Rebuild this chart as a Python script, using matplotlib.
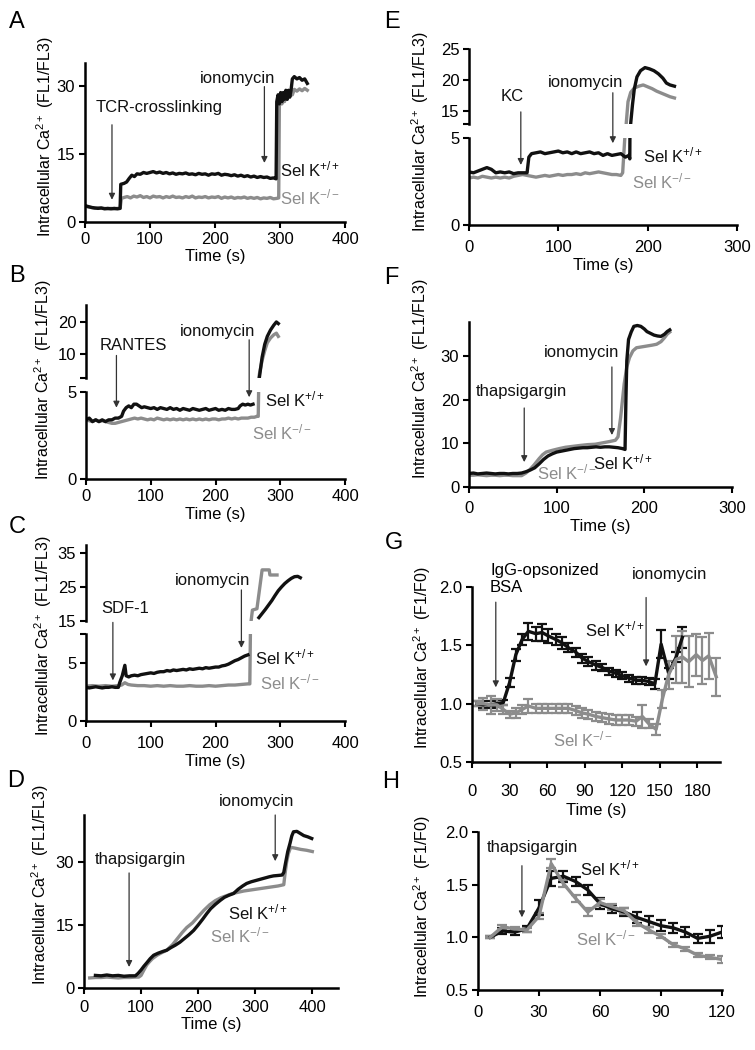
import matplotlib.pyplot as plt
import numpy as np

plt.rcParams['font.family'] = ['Liberation Sans', 'DejaVu Sans']
plt.rcParams['mathtext.fontset'] = 'custom'
plt.rcParams['mathtext.rm'] = 'Liberation Sans'
plt.rcParams['mathtext.it'] = 'Liberation Sans:italic'
plt.rcParams['mathtext.bf'] = 'Liberation Sans:bold'
plt.rcParams['mathtext.default'] = 'regular'

BLACK = '#111111'
GRAY = '#8c8c8c'
ARROW = '#333333'

# ---------------- data (time s, value) ----------------
# A: TCR-crosslinking
a_black = [(0, 3.6), (5, 3.4), (10, 3.2), (15, 3.1), (20, 3.0), (25, 3.1), (30, 2.9), (35, 3.0), (40, 2.9),
           (45, 3.0), (50, 2.9), (54, 3.0), (55, 8.3), (60, 8.5), (64, 8.8), (68, 9.6), (72, 10.3), (76, 10.0),
           (80, 10.6), (85, 10.5), (90, 10.9), (95, 10.7), (100, 10.9), (105, 11.1), (110, 10.8), (115, 11.0),
           (120, 10.7), (125, 10.9), (130, 10.6), (135, 10.8), (140, 10.5), (145, 10.7), (150, 10.6), (155, 10.8),
           (160, 10.5), (165, 10.6), (170, 10.4), (175, 10.7), (180, 10.5), (185, 10.6), (190, 10.3), (195, 10.6),
           (200, 10.5), (205, 10.7), (210, 10.3), (215, 10.5), (220, 10.4), (225, 10.2), (230, 10.4), (235, 10.1),
           (240, 10.3), (245, 10.0), (250, 10.2), (255, 9.9), (260, 10.1), (265, 9.8), (270, 10.0), (275, 9.8),
           (280, 9.9), (285, 9.6), (290, 9.7), (294, 9.5), (295, 26.5), (297, 28), (299, 26), (301, 28.5),
           (303, 26.5), (305, 28.5), (307, 27), (309, 29), (311, 27), (313, 29), (315, 27.5), (317, 29),
           (319, 31.5), (322, 32), (326, 31.5), (330, 31.8), (334, 31.2), (338, 31.5), (342, 30.5)]
a_gray = [(0, 3.5), (5, 3.3), (10, 3.2), (15, 3.0), (20, 3.1), (25, 3.0), (30, 3.0), (35, 2.9), (40, 3.0),
          (45, 2.9), (50, 3.0), (54, 3.0), (56, 5.2), (60, 5.4), (65, 5.6), (70, 5.3), (75, 5.7), (80, 5.5),
          (85, 5.8), (90, 5.4), (95, 5.6), (100, 5.3), (105, 5.7), (110, 5.5), (115, 5.6), (120, 5.3), (125, 5.6),
          (130, 5.4), (135, 5.7), (140, 5.4), (145, 5.5), (150, 5.3), (155, 5.6), (160, 5.4), (165, 5.7),
          (170, 5.3), (175, 5.5), (180, 5.4), (185, 5.6), (190, 5.3), (195, 5.5), (200, 5.4), (205, 5.6),
          (210, 5.2), (215, 5.5), (220, 5.3), (225, 5.5), (230, 5.2), (235, 5.4), (240, 5.3), (245, 5.5),
          (250, 5.2), (255, 5.4), (260, 5.2), (265, 5.4), (270, 5.1), (275, 5.3), (280, 5.2), (285, 5.4),
          (290, 5.1), (295, 5.2), (298, 5.3), (299, 25.5), (301, 27), (303, 26), (305, 27.5), (307, 26.5),
          (309, 28), (311, 27), (313, 28), (315, 27.5), (317, 28.5), (319, 28), (322, 29.2), (326, 28.8),
          (330, 29.3), (334, 28.9), (338, 29.4), (342, 29)]

# B: RANTES (broken axis: lower / upper parts)
b_black_low = [(0, 3.4), (5, 3.5), (10, 3.3), (15, 3.4), (20, 3.3), (25, 3.4), (30, 3.3), (35, 3.4), (40, 3.4),
               (45, 3.5), (50, 3.5), (55, 3.6), (58, 3.9), (62, 4.1), (66, 4.2), (70, 4.1), (74, 4.3), (78, 4.3),
               (82, 4.2), (86, 4.1), (90, 4.15), (95, 4.1), (100, 4.05), (105, 4.1), (110, 4.0), (115, 4.1),
               (120, 4.05), (125, 4.0), (130, 4.1), (135, 4.0), (140, 4.05), (145, 3.95), (150, 4.05), (155, 4.0),
               (160, 3.95), (165, 4.05), (170, 4.0), (175, 3.95), (180, 4.0), (185, 4.05), (190, 3.95), (195, 4.0),
               (200, 4.05), (205, 3.95), (210, 4.0), (215, 3.95), (220, 4.05), (225, 4.0), (230, 4.0), (235, 4.05),
               (238, 4.2), (242, 4.3), (246, 4.25), (250, 4.3), (254, 4.25), (258, 4.3)]
b_black_up = [(268, 3), (272, 9), (276, 13), (280, 15.5), (285, 17.5), (290, 19), (294, 20), (297, 19.5)]
b_gray_low = [(0, 3.4), (5, 3.35), (10, 3.3), (15, 3.4), (20, 3.3), (25, 3.35), (30, 3.3), (35, 3.25), (40, 3.2),
              (45, 3.2), (50, 3.25), (55, 3.3), (60, 3.35), (65, 3.4), (70, 3.45), (75, 3.5), (80, 3.45), (85, 3.5),
              (90, 3.45), (95, 3.4), (100, 3.45), (105, 3.4), (110, 3.5), (115, 3.45), (120, 3.4), (125, 3.45),
              (130, 3.4), (135, 3.45), (140, 3.4), (145, 3.45), (150, 3.4), (155, 3.45), (160, 3.4), (165, 3.45),
              (170, 3.4), (175, 3.45), (180, 3.4), (185, 3.45), (190, 3.4), (195, 3.45), (200, 3.45), (205, 3.4),
              (210, 3.45), (215, 3.45), (220, 3.5), (225, 3.45), (230, 3.5), (235, 3.45), (240, 3.5), (245, 3.5),
              (250, 3.5), (255, 3.55), (260, 3.55), (264, 3.6), (266, 3.6), (267, 6)]
b_gray_up = [(267, 2.5), (268, 4), (272, 8), (276, 11), (280, 13.5), (285, 15), (290, 16), (294, 16.5), (297, 15.5)]

# C: SDF-1 (nan = gap across the axis break)
c_black = [(0, 2.9), (5, 2.85), (10, 2.9), (15, 2.95), (20, 2.9), (25, 2.85), (30, 2.9), (35, 2.9), (40, 2.95),
           (45, 2.9), (50, 2.9), (52, 3.3), (56, 3.9), (60, 4.8), (62, 3.9), (66, 3.8), (70, 3.9), (75, 3.95),
           (80, 3.9), (85, 4.0), (90, 4.05), (95, 4.1), (100, 4.15), (105, 4.1), (110, 4.2), (115, 4.25),
           (120, 4.25), (125, 4.35), (130, 4.3), (135, 4.4), (140, 4.35), (145, 4.4), (150, 4.45), (155, 4.4),
           (160, 4.5), (165, 4.45), (170, 4.5), (175, 4.55), (180, 4.5), (185, 4.6), (190, 4.55), (195, 4.6),
           (200, 4.65), (205, 4.65), (210, 4.75), (215, 4.8), (220, 4.9), (225, 5.05), (230, 5.2), (235, 5.3),
           (240, 5.45), (245, 5.6), (250, 5.7), (251, np.nan), (267, 16.0), (272, 17.2), (277, 18.4), (282, 19.7),
           (287, 21.0), (292, 22.5), (297, 23.9), (302, 25.0), (307, 26.0), (312, 26.8), (317, 27.5),
           (322, 28.0), (327, 28.1), (331, 27.7)]
c_gray = [(0, 3.0), (10, 3.05), (20, 3.0), (30, 3.05), (40, 3.0), (50, 3.05), (55, 3.1), (60, 3.3), (65, 3.15),
          (70, 3.1), (80, 3.05), (90, 3.05), (100, 3.0), (110, 3.05), (120, 3.0), (130, 3.05), (140, 3.0),
          (150, 3.0), (160, 3.05), (170, 3.0), (180, 3.0), (190, 3.05), (200, 3.0), (210, 3.05), (220, 3.1),
          (230, 3.1), (240, 3.15), (250, 3.2), (253, 3.2), (254, 8), (254.5, np.nan), (255, 15),
          (257, 18.2), (264, 18.6), (272, 30.0), (283, 30.0), (284, 28.5), (295, 28.5)]

# D: thapsigargin
d_black = [(20, 3.0), (30, 2.9), (40, 3.1), (50, 2.9), (60, 3.0), (70, 2.8), (80, 2.9), (90, 2.9), (95, 3.5),
           (100, 4.3), (105, 5.2), (110, 6.0), (116, 7.0), (122, 7.8), (130, 8.3), (138, 8.7), (145, 9.0),
           (152, 9.6), (160, 10.2), (168, 10.9), (176, 11.8), (184, 12.7), (192, 13.7), (200, 15.0), (208, 16.4),
           (215, 17.7), (222, 18.9), (230, 19.9), (239, 20.9), (246, 21.6), (254, 22.1), (262, 22.5), (270, 23.5),
           (278, 24.3), (285, 24.9), (293, 25.3), (301, 25.6), (309, 25.9), (317, 26.2), (325, 26.5), (332, 26.7),
           (340, 26.8), (347, 26.9), (350, 27.5), (353, 29.7), (357, 32.5), (361, 34.5), (364, 36.2), (367, 37.2),
           (373, 37.3), (379, 36.8), (385, 36.3), (392, 36.0), (399, 35.6)]
d_gray = [(10, 2.4), (20, 2.5), (30, 2.5), (40, 2.6), (50, 2.5), (60, 2.4), (70, 2.5), (80, 2.5), (90, 2.6),
          (96, 2.6), (100, 3.0), (105, 4.3), (110, 5.5), (115, 6.3), (120, 7.0), (128, 7.8), (136, 8.4),
          (145, 9.0), (155, 10.3), (165, 12.0), (172, 13.2), (180, 14.4), (190, 15.5), (200, 17.0), (210, 18.5),
          (220, 19.8), (230, 20.8), (240, 21.5), (250, 22.0), (260, 22.5), (270, 22.8), (280, 23.1), (290, 23.3),
          (300, 23.5), (310, 23.7), (320, 23.9), (330, 24.1), (340, 24.3), (350, 24.6), (352, 27.0), (355, 30.0),
          (358, 32.0), (362, 33.5), (370, 33.3), (380, 33.0), (390, 32.8), (400, 32.5)]

# E: KC
e_black = [(0, 3.05), (5, 3.0), (10, 3.1), (15, 3.2), (20, 3.3), (25, 3.2), (30, 3.0), (35, 3.05), (40, 3.0),
           (45, 3.05), (50, 2.95), (55, 3.0), (60, 3.0), (65, 3.0), (67, 3.9), (70, 4.1), (75, 4.15), (80, 4.2),
           (85, 4.1), (90, 4.15), (95, 4.2), (100, 4.25), (105, 4.15), (110, 4.2), (115, 4.1), (120, 4.2),
           (125, 4.1), (130, 4.15), (135, 4.2), (140, 4.1), (145, 4.15), (150, 4.0), (155, 4.1), (160, 4.0),
           (165, 4.05), (170, 4.1), (175, 3.9), (179, 4.0), (180, 3.8), (181, 13), (183, 16), (185, 18.5),
           (188, 20.5), (192, 21.5), (197, 22), (202, 21.8), (207, 21.5), (212, 21.0), (217, 20.3), (221, 19.5),
           (225, 19.2), (230, 19.0)]
e_gray = [(0, 2.7), (5, 2.75), (10, 2.7), (15, 2.8), (20, 2.75), (25, 2.7), (30, 2.75), (35, 2.7), (40, 2.75),
          (45, 2.7), (50, 2.8), (55, 2.85), (60, 2.9), (65, 2.85), (70, 2.8), (75, 2.75), (80, 2.8), (85, 2.85),
          (90, 2.8), (95, 2.85), (100, 2.9), (105, 2.85), (110, 2.9), (115, 2.9), (120, 2.95), (125, 2.9),
          (130, 3.0), (135, 2.95), (140, 3.0), (145, 3.05), (150, 3.0), (155, 2.95), (160, 2.9), (165, 2.9),
          (170, 2.85), (172, 3.0), (175, 5.5), (176, 13), (178, 16.5), (181, 18.0), (185, 18.7), (190, 19.0),
          (195, 19.2), (200, 18.9), (205, 18.6), (210, 18.2), (215, 17.9), (220, 17.6), (225, 17.3), (230, 17.1)]

# F: thapsigargin
f_black = [(0, 3.1), (5, 3.2), (10, 3.0), (15, 3.1), (20, 3.2), (25, 3.1), (30, 3.0), (35, 3.1), (40, 3.1),
           (45, 3.0), (50, 3.1), (55, 3.1), (60, 3.2), (65, 3.5), (70, 3.9), (75, 4.4), (80, 5.3), (85, 6.3),
           (90, 7.1), (95, 7.6), (100, 8.0), (105, 8.2), (110, 8.4), (115, 8.6), (120, 8.8), (125, 8.9),
           (130, 9.0), (135, 9.0), (140, 9.1), (145, 9.2), (150, 9.1), (155, 9.2), (160, 9.2), (165, 9.1),
           (170, 9.0), (175, 8.8), (178, 8.6), (179, 20), (180, 28.9), (182, 33.8), (185, 35.5), (188, 36.8),
           (192, 37.0), (196, 36.8), (200, 36.2), (203, 35.6), (207, 35.2), (211, 34.8), (215, 34.6), (219, 34.5),
           (223, 35.0), (226, 35.6), (229, 36.0)]
f_gray = [(0, 2.7), (5, 2.7), (10, 2.8), (15, 2.7), (20, 2.6), (25, 2.7), (30, 2.7), (35, 2.6), (40, 2.7),
          (45, 2.7), (50, 2.6), (55, 2.6), (60, 2.6), (65, 3.2), (69, 3.9), (74, 5.0), (80, 6.5), (84, 7.4),
          (88, 8.0), (95, 8.4), (103, 8.8), (110, 9.1), (118, 9.3), (126, 9.5), (135, 9.7), (144, 9.8),
          (152, 10.1), (160, 10.4), (167, 10.7), (170, 11.5), (173, 16), (177, 23.6), (180, 27.5), (183, 29.6),
          (187, 31.2), (191, 31.9), (197, 32.1), (203, 32.3), (209, 32.5), (214, 32.7), (219, 33.3), (223, 34.2),
          (226, 35.0), (229, 35.5)]

# G: IgG-opsonized BSA (time, mean, error)
g_black = [(4, 1.00, 0.02), (9, 0.99, 0.03), (15, 0.99, 0.03), (20, 1.00, 0.03), (25, 1.01, 0.02),
           (30, 1.18, 0.04), (35, 1.42, 0.05), (40, 1.55, 0.05), (45, 1.62, 0.07), (51, 1.60, 0.06),
           (56, 1.61, 0.07), (61, 1.58, 0.06), (67, 1.55, 0.05), (72, 1.52, 0.05), (77, 1.48, 0.04),
           (83, 1.44, 0.04), (88, 1.39, 0.04), (93, 1.36, 0.04), (99, 1.33, 0.04), (104, 1.31, 0.03),
           (109, 1.28, 0.03), (115, 1.26, 0.03), (120, 1.24, 0.03), (125, 1.22, 0.03), (131, 1.20, 0.03),
           (136, 1.20, 0.03), (141, 1.19, 0.03), (146, 1.17, 0.04), (151, 1.51, 0.12), (157, 1.26, 0.05),
           (163, 1.40, 0.04), (168, 1.57, 0.09)]
g_gray = [(4, 1.00, 0.02), (9, 1.00, 0.05), (15, 0.99, 0.08), (20, 0.99, 0.05), (25, 0.95, 0.04),
          (30, 0.91, 0.03), (35, 0.92, 0.04), (40, 0.95, 0.04), (45, 0.98, 0.06), (51, 0.96, 0.04),
          (56, 0.96, 0.04), (61, 0.96, 0.04), (67, 0.96, 0.04), (72, 0.96, 0.04), (77, 0.96, 0.04),
          (83, 0.94, 0.04), (88, 0.92, 0.04), (93, 0.91, 0.04), (99, 0.89, 0.04), (104, 0.88, 0.04),
          (109, 0.87, 0.04), (115, 0.86, 0.04), (120, 0.86, 0.04), (125, 0.86, 0.04), (131, 0.85, 0.04),
          (136, 0.89, 0.10), (141, 0.83, 0.04), (147, 0.78, 0.05), (152, 1.04, 0.08), (157, 1.25, 0.12),
          (163, 1.38, 0.20), (168, 1.40, 0.22), (173, 1.36, 0.22), (179, 1.42, 0.18), (184, 1.37, 0.20),
          (189, 1.41, 0.20), (195, 1.23, 0.16)]

# H: thapsigargin (time, mean, error)
h_black = [(6, 1.00, 0.01), (12, 1.06, 0.03), (18, 1.05, 0.03), (24, 1.08, 0.03), (30, 1.28, 0.07),
           (36, 1.56, 0.07), (42, 1.58, 0.05), (48, 1.53, 0.04), (54, 1.45, 0.05), (60, 1.32, 0.05),
           (66, 1.27, 0.04), (72, 1.24, 0.04), (78, 1.19, 0.05), (84, 1.15, 0.05), (90, 1.11, 0.05),
           (96, 1.09, 0.05), (102, 1.05, 0.05), (108, 0.99, 0.04), (114, 1.01, 0.06), (120, 1.05, 0.06)]
h_gray = [(6, 1.00, 0.01), (12, 1.10, 0.02), (18, 1.08, 0.02), (24, 1.07, 0.02), (30, 1.20, 0.03),
          (36, 1.70, 0.04), (42, 1.51, 0.03), (48, 1.37, 0.03), (54, 1.24, 0.04), (60, 1.33, 0.03),
          (66, 1.29, 0.03), (72, 1.25, 0.03), (78, 1.14, 0.03), (84, 1.07, 0.03), (90, 1.01, 0.02),
          (96, 0.93, 0.02), (102, 0.89, 0.02), (108, 0.83, 0.02), (114, 0.81, 0.02), (120, 0.79, 0.03)]

x_ticks_400 = [0, 100, 200, 300, 400]
x_ticks_300 = [0, 100, 200, 300]
x_ticks_g = [0, 30, 60, 90, 120, 150, 180]
x_ticks_h = [0, 30, 60, 90, 120]
y_ticks_ratio = [0.5, 1.0, 1.5, 2.0]

KP = r'Sel K$^{+/+}$'
KM = r'Sel K$^{-/-}$'
YL_FL = r'Intracellular Ca$^{2+}$ (FL1/FL3)'
YL_F = r'Intracellular Ca$^{2+}$ (F1/F0)'

# ---------------- figure ----------------
W, H = 755, 1050
fig = plt.figure(figsize=(W / 100, H / 100), dpi=100)


def box(l, t, r, b):
    return fig.add_axes([l / W, 1 - b / H, (r - l) / W, (b - t) / H])


def style(ax, xlim, ylim, yticks, ylabels=None, xticks=None, pad=3):
    ax.set_xlim(*xlim)
    ax.set_ylim(*ylim)
    ax.patch.set_visible(False)
    for s in ('top', 'right'):
        ax.spines[s].set_visible(False)
    for s in ('left', 'bottom'):
        ax.spines[s].set_linewidth(1.8)
    if ylabels is None:
        ylabels = [f'{v:g}' for v in yticks]
    ax.set_yticks(yticks, ylabels)
    ax.tick_params(direction='out', length=4, width=1.5, labelsize=12, pad=3)
    if xticks is None:
        ax.spines['bottom'].set_visible(False)
        ax.tick_params(axis='x', bottom=False, labelbottom=False)
    else:
        ax.set_xticks(xticks)
        ax.tick_params(axis='x', pad=pad)


def trace(ax, pts, color, lw=2.4):
    t, y = zip(*pts)
    ax.plot(t, y, color=color, lw=lw, solid_joinstyle='round')


def bars(ax, pts, color):
    t, y, e = zip(*pts)
    ax.errorbar(t, y, yerr=e, color=color, lw=2.4, elinewidth=1.6, capsize=3.5, capthick=1.6)


def arrow(ax, x, y0, y1):
    ax.annotate('', xy=(x, y1), xytext=(x, y0), annotation_clip=False,
                arrowprops=dict(arrowstyle='-|>', color=ARROW, lw=0.9, mutation_scale=9,
                                shrinkA=0, shrinkB=0))


def label(ax, x, y, s, color=BLACK, ha='left'):
    ax.text(x, y, s, color=color, fontsize=12, ha=ha, va='center')


def ylab(x, y, s):
    fig.text(x / W, 1 - y / H, s, rotation=90, fontsize=11.5, ha='center', va='center')


def letter(x, y, s):
    fig.text(x / W, 1 - y / H, s, fontsize=17, ha='center', va='center')


# A
ax = box(85, 63, 345, 222)
trace(ax, a_gray, GRAY)
trace(ax, a_black, BLACK)
style(ax, (0, 400), (0, 35), [0, 15, 30], xticks=x_ticks_400)
ax.set_xlabel('Time (s)', fontsize=12, labelpad=2)
label(ax, 114, 25.1, 'TCR-crosslinking', ha='center')
arrow(ax, 41.5, 21.4, 4.9)
label(ax, 234, 31.5, 'ionomycin', ha='center')
arrow(ax, 276, 29.8, 13)
label(ax, 300, 11.5, KP)
label(ax, 300, 5.3, KM, GRAY)

# B
lo = box(86, 392, 345, 479)
up = box(86, 305, 345, 378)
trace(lo, b_gray_low, GRAY)
trace(lo, b_black_low, BLACK)
trace(up, b_gray_up, GRAY)
trace(up, b_black_up, BLACK)
style(lo, (0, 400), (0, 5), [0, 5], xticks=x_ticks_400)
style(up, (0, 400), (2.5, 25.3), [2.5, 10, 20], ['', '10', '20'])
lo.set_xlabel('Time (s)', fontsize=12, labelpad=2)
label(lo, 73, 7.7, 'RANTES', ha='center')
arrow(lo, 47, 7.1, 4.1)
label(lo, 203, 8.45, 'ionomycin', ha='center')
arrow(lo, 252, 8.0, 4.7)
label(lo, 276, 4.55, KP)
label(lo, 256, 2.7, KM, GRAY)

# C
lo = box(86, 634, 345, 721)
up = box(86, 545, 345, 621)
for a in (lo, up):
    trace(a, c_gray, GRAY)
    trace(a, c_black, BLACK)
style(lo, (0, 400), (0, 7.5), [0, 5, 7.5], ['0', '5', ''], xticks=x_ticks_400, pad=7)
style(up, (0, 400), (15, 37.3), [15, 25, 35])
lo.set_xlabel('Time (s)', fontsize=12, labelpad=2)
label(lo, 60, 9.74, 'SDF-1', ha='center')
arrow(lo, 41.5, 8.5, 3.5)
label(lo, 196, 12.1, 'ionomycin', ha='center')
arrow(lo, 240, 11.3, 6.3)
label(lo, 261, 5.5, KP)
label(lo, 269, 3.3, KM, GRAY)

# D
ax = box(84, 815, 338, 988)
trace(ax, d_gray, GRAY)
trace(ax, d_black, BLACK)
style(ax, (0, 445), (0, 41.2), [0, 15, 30], xticks=x_ticks_400, pad=5)
ax.set_xlabel('Time (s)', fontsize=12, labelpad=1)
label(ax, 98, 30.5, 'thapsigargin', ha='center')
arrow(ax, 79, 27.4, 5.0)
label(ax, 303, 44.3, 'ionomycin', ha='center')
arrow(ax, 335, 41.2, 30.2)
label(ax, 253, 18.1, KP)
label(ax, 220, 12.6, KM, GRAY)

# E
lo = box(469, 138, 737, 225)
up = box(469, 49, 737, 124)
for a in (lo, up):
    trace(a, e_gray, GRAY)
    trace(a, e_black, BLACK)
style(lo, (0, 300), (0, 5), [0, 5], xticks=x_ticks_300, pad=7)
style(up, (0, 300), (12.9, 25), [12.9, 15, 20, 25], ['', '15', '20', '25'])
lo.set_xlabel('Time (s)', fontsize=12, labelpad=2)
label(lo, 48, 7.36, 'KC', ha='center')
arrow(lo, 58, 6.5, 3.45)
label(lo, 130, 8.2, 'ionomycin', ha='center')
arrow(lo, 161, 7.6, 4.7)
label(lo, 195, 4.0, KP)
label(lo, 182, 2.5, KM, GRAY)

# F
ax = box(469, 322, 732, 487)
trace(ax, f_gray, GRAY)
trace(ax, f_black, BLACK)
style(ax, (0, 300), (0, 37.8), [0, 10, 20, 30], xticks=x_ticks_300, pad=6)
ax.set_xlabel('Time (s)', fontsize=12, labelpad=2)
label(ax, 60, 21.8, 'thapsigargin', ha='center')
arrow(ax, 63, 18.1, 5.7)
label(ax, 128, 30.7, 'ionomycin', ha='center')
arrow(ax, 163, 27.5, 11.9)
label(ax, 141, 5.7, KP)
label(ax, 77, 3.4, KM, GRAY)

# G
ax = box(472, 587, 720, 762)
bars(ax, g_black, BLACK)
bars(ax, g_gray, GRAY)
style(ax, (0, 198), (0.5, 2.0), y_ticks_ratio, ['0.5', '1.0', '1.5', '2.0'], xticks=x_ticks_g, pad=12)
ax.set_xlabel('Time (s)', fontsize=12, labelpad=3)
ax.text(14.4, 2.07, 'IgG-opsonized\nBSA', fontsize=12, ha='left', va='center', linespacing=1.2)
arrow(ax, 19, 1.87, 1.14)
label(ax, 158, 2.11, 'ionomycin', ha='center')
arrow(ax, 139, 1.91, 1.32)
label(ax, 90, 1.64, KP)
label(ax, 65, 0.69, KM, GRAY)

# H
ax = box(478, 832, 722, 990)
bars(ax, h_black, BLACK)
bars(ax, h_gray, GRAY)
style(ax, (0, 120), (0.5, 2.0), y_ticks_ratio, ['0.5', '1.0', '1.5', '2.0'], xticks=x_ticks_h, pad=7)
label(ax, 26.6, 1.85, 'thapsigargin', ha='center')
arrow(ax, 21.6, 1.68, 1.19)
label(ax, 50, 1.65, KP)
label(ax, 48, 0.99, KM, GRAY)

# y labels and panel letters
ylab(45, 137, YL_FL)
ylab(43, 380, YL_FL)
ylab(43, 636, YL_FL)
ylab(40, 885, YL_FL)
ylab(420, 132, YL_FL)
ylab(420, 379, YL_FL)
ylab(422, 658, YL_F)
ylab(422, 907, YL_F)

for x, y, s in [(17, 22, 'A'), (17, 276, 'B'), (17, 527, 'C'), (16, 781, 'D'),
                (392, 22, 'E'), (391, 278, 'F'), (394, 543, 'G'), (391, 782, 'H')]:
    letter(x, y, s)

fig.savefig('out.png', dpi=100)
